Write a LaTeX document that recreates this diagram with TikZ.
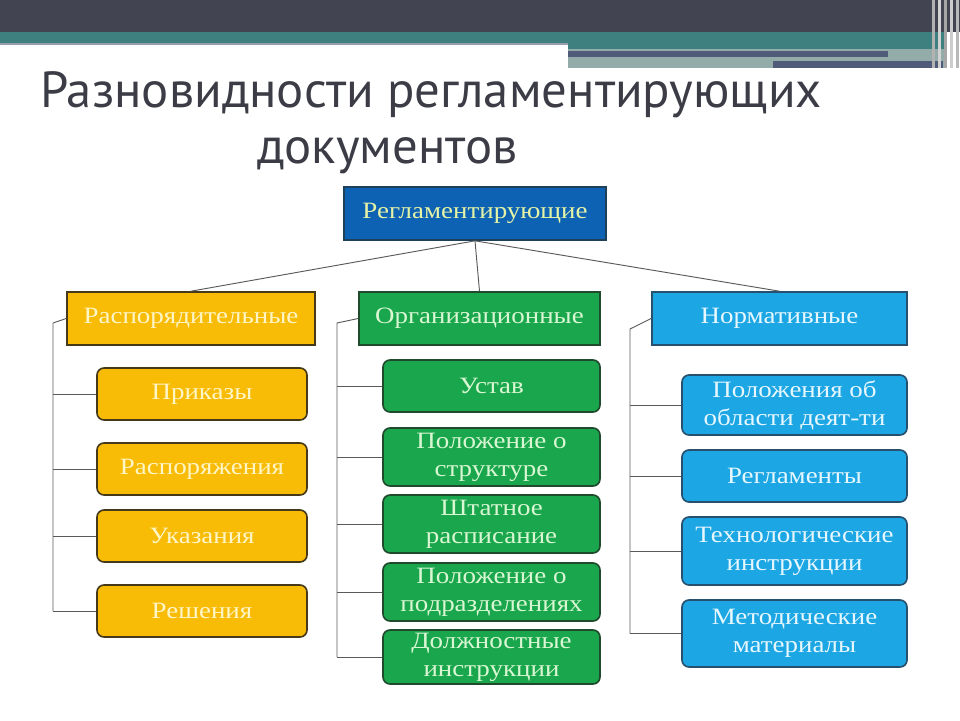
\documentclass[tikz,border=0pt]{standalone}
\usepackage{fontspec}
\newfontfamily\boxfont[FakeStretch=1.15]{Liberation Serif}
\newfontfamily\titlefont{PT Sans}
\definecolor{bandgray}{HTML}{434452}
\definecolor{bandteal}{HTML}{3E7F80}
\definecolor{bandlight}{HTML}{93ABA9}
\definecolor{bandslate}{HTML}{505B7A}
\definecolor{titlegray}{HTML}{3B3C46}
\definecolor{topfill}{HTML}{0E62B4}
\definecolor{toptext}{HTML}{E4F3A6}
\definecolor{orfill}{HTML}{F8BB06}
\definecolor{ortext}{HTML}{FFF6C8}
\definecolor{orline}{HTML}{45391A}
\definecolor{grfill}{HTML}{19A64C}
\definecolor{grtext}{HTML}{D9F7D3}
\definecolor{grline}{HTML}{1F4A2C}
\definecolor{blfill}{HTML}{1CA6E3}
\definecolor{bltext}{HTML}{E6F7FF}
\definecolor{blline}{HTML}{26506E}
\definecolor{linkgray}{HTML}{5A5A5A}
\tikzset{
  box/.style={draw, line width=1.4pt, align=center, inner sep=1pt,
    font=\boxfont\fontsize{20}{23.8}\selectfont},
  catbox/.style={box, minimum height=1.59cm},
  subbox/.style={box, rounded corners=6pt, minimum height=1.56cm},
  orange/.style={fill=orfill, draw=orline, text=ortext},
  green/.style={fill=grfill, draw=grline, text=grtext},
  blue/.style={fill=blfill, draw=blline, text=bltext},
  link/.style={draw=linkgray, line width=0.8pt}
}
\begin{document}
\begin{tikzpicture}[x=0.03cm, y=-0.03cm]
    \useasboundingbox (0,0) rectangle (960,720);
    % Banner
    \fill[bandgray] (0,0) rectangle (960,32);
    \fill[bandteal] (0,32) rectangle (945,43);
    \fill[bandslate!60] (0,43) rectangle (568,45);
    \fill[bandteal] (568,43) rectangle (945,49);
    \fill[bandlight] (568,49) rectangle (945,68);
    \fill[bandslate] (568,51) rectangle (888,57);
    \fill[bandslate] (773,61) rectangle (943,68);
    \foreach \x/\c in {932/gray!60, 938/gray!35, 944/gray!70, 950/gray!40, 956/gray!55}
        \fill[\c] (\x,0) rectangle (\x+3,68);

    % Title
    \node[anchor=base west, inner sep=0, text=titlegray,
        font=\titlefont\fontsize{43.3}{56}\selectfont] (title1) at (40,107)
        {Разновидности регламентирующих};
    \node[anchor=base west, inner sep=0, text=titlegray,
        font=\titlefont\fontsize{43.3}{56}\selectfont] (title2) at (257,163)
        {документов};

    % Nodes
    \node[catbox, fill=topfill, draw=blline!80!black, text=toptext,
        minimum width=7.86cm] (r) at (475,213.5) {Регламентирующие};
    \node[catbox, orange, minimum width=7.44cm] (c1) at (191,318.5) {Распорядительные};
    \node[catbox, green, minimum width=7.23cm] (c2) at (479.5,318.5) {Организационные};
    \node[catbox, blue, minimum width=7.65cm] (c3) at (779.5,318.5) {Нормативные};

    \node[subbox, orange, minimum width=6.3cm] (a1) at (202,394) {Приказы};
    \node[subbox, orange, minimum width=6.3cm] (a2) at (202,469) {Распоряжения};
    \node[subbox, orange, minimum width=6.3cm] (a3) at (202,536) {Указания};
    \node[subbox, orange, minimum width=6.3cm] (a4) at (202,611) {Решения};

    \node[subbox, green, minimum width=6.51cm] (b1) at (491.5,386) {Устав};
    \node[subbox, green, minimum width=6.51cm, minimum height=1.74cm] (b2) at (491.5,457)
        {Положение о\\структуре};
    \node[subbox, green, minimum width=6.51cm, minimum height=1.74cm] (b3) at (491.5,524)
        {Штатное\\расписание};
    \node[subbox, green, minimum width=6.51cm, minimum height=1.74cm] (b4) at (491.5,592)
        {Положение о\\подразделениях};
    \node[subbox, green, minimum width=6.51cm, minimum height=1.62cm] (b5) at (491.5,657)
        {Должностные\\инструкции};

    \node[subbox, blue, minimum width=6.75cm, minimum height=1.8cm] (k1) at (794.5,405)
        {Положения об\\области деят-ти};
    \node[subbox, blue, minimum width=6.75cm] (k2) at (794.5,476) {Регламенты};
    \node[subbox, blue, minimum width=6.75cm, minimum height=2.04cm] (k3) at (794.5,551)
        {Технологические\\инструкции};
    \node[subbox, blue, minimum width=6.75cm, minimum height=2.01cm] (k4) at (794.5,633.5)
        {Методические\\материалы};

    % Edges
    \draw[link] (r.south) -- (c1.north);
    \draw[link] (r.south) -- (c2.north);
    \draw[link] (r.south) -- (c3.north);

    \coordinate (la) at (53,323);
    \coordinate (lb) at (337,323);
    \coordinate (lc) at (630,329);
    \draw[link] (c1.west) -- (la) -- (a4.west -| la);
    \draw[link] (c2.west) -- (lb) -- (b5.west -| lb);
    \draw[link] (c3.west) -- (lc) -- (k4.west -| lc);
    \foreach \n in {a1,a2,a3,a4}
        \draw[link] (\n.west -| la) -- (\n.west);
    \foreach \n in {b1,b2,b3,b4,b5}
        \draw[link] (\n.west -| lb) -- (\n.west);
    \foreach \n in {k1,k2,k3,k4}
        \draw[link] (\n.west -| lc) -- (\n.west);
\end{tikzpicture}
\end{document}
